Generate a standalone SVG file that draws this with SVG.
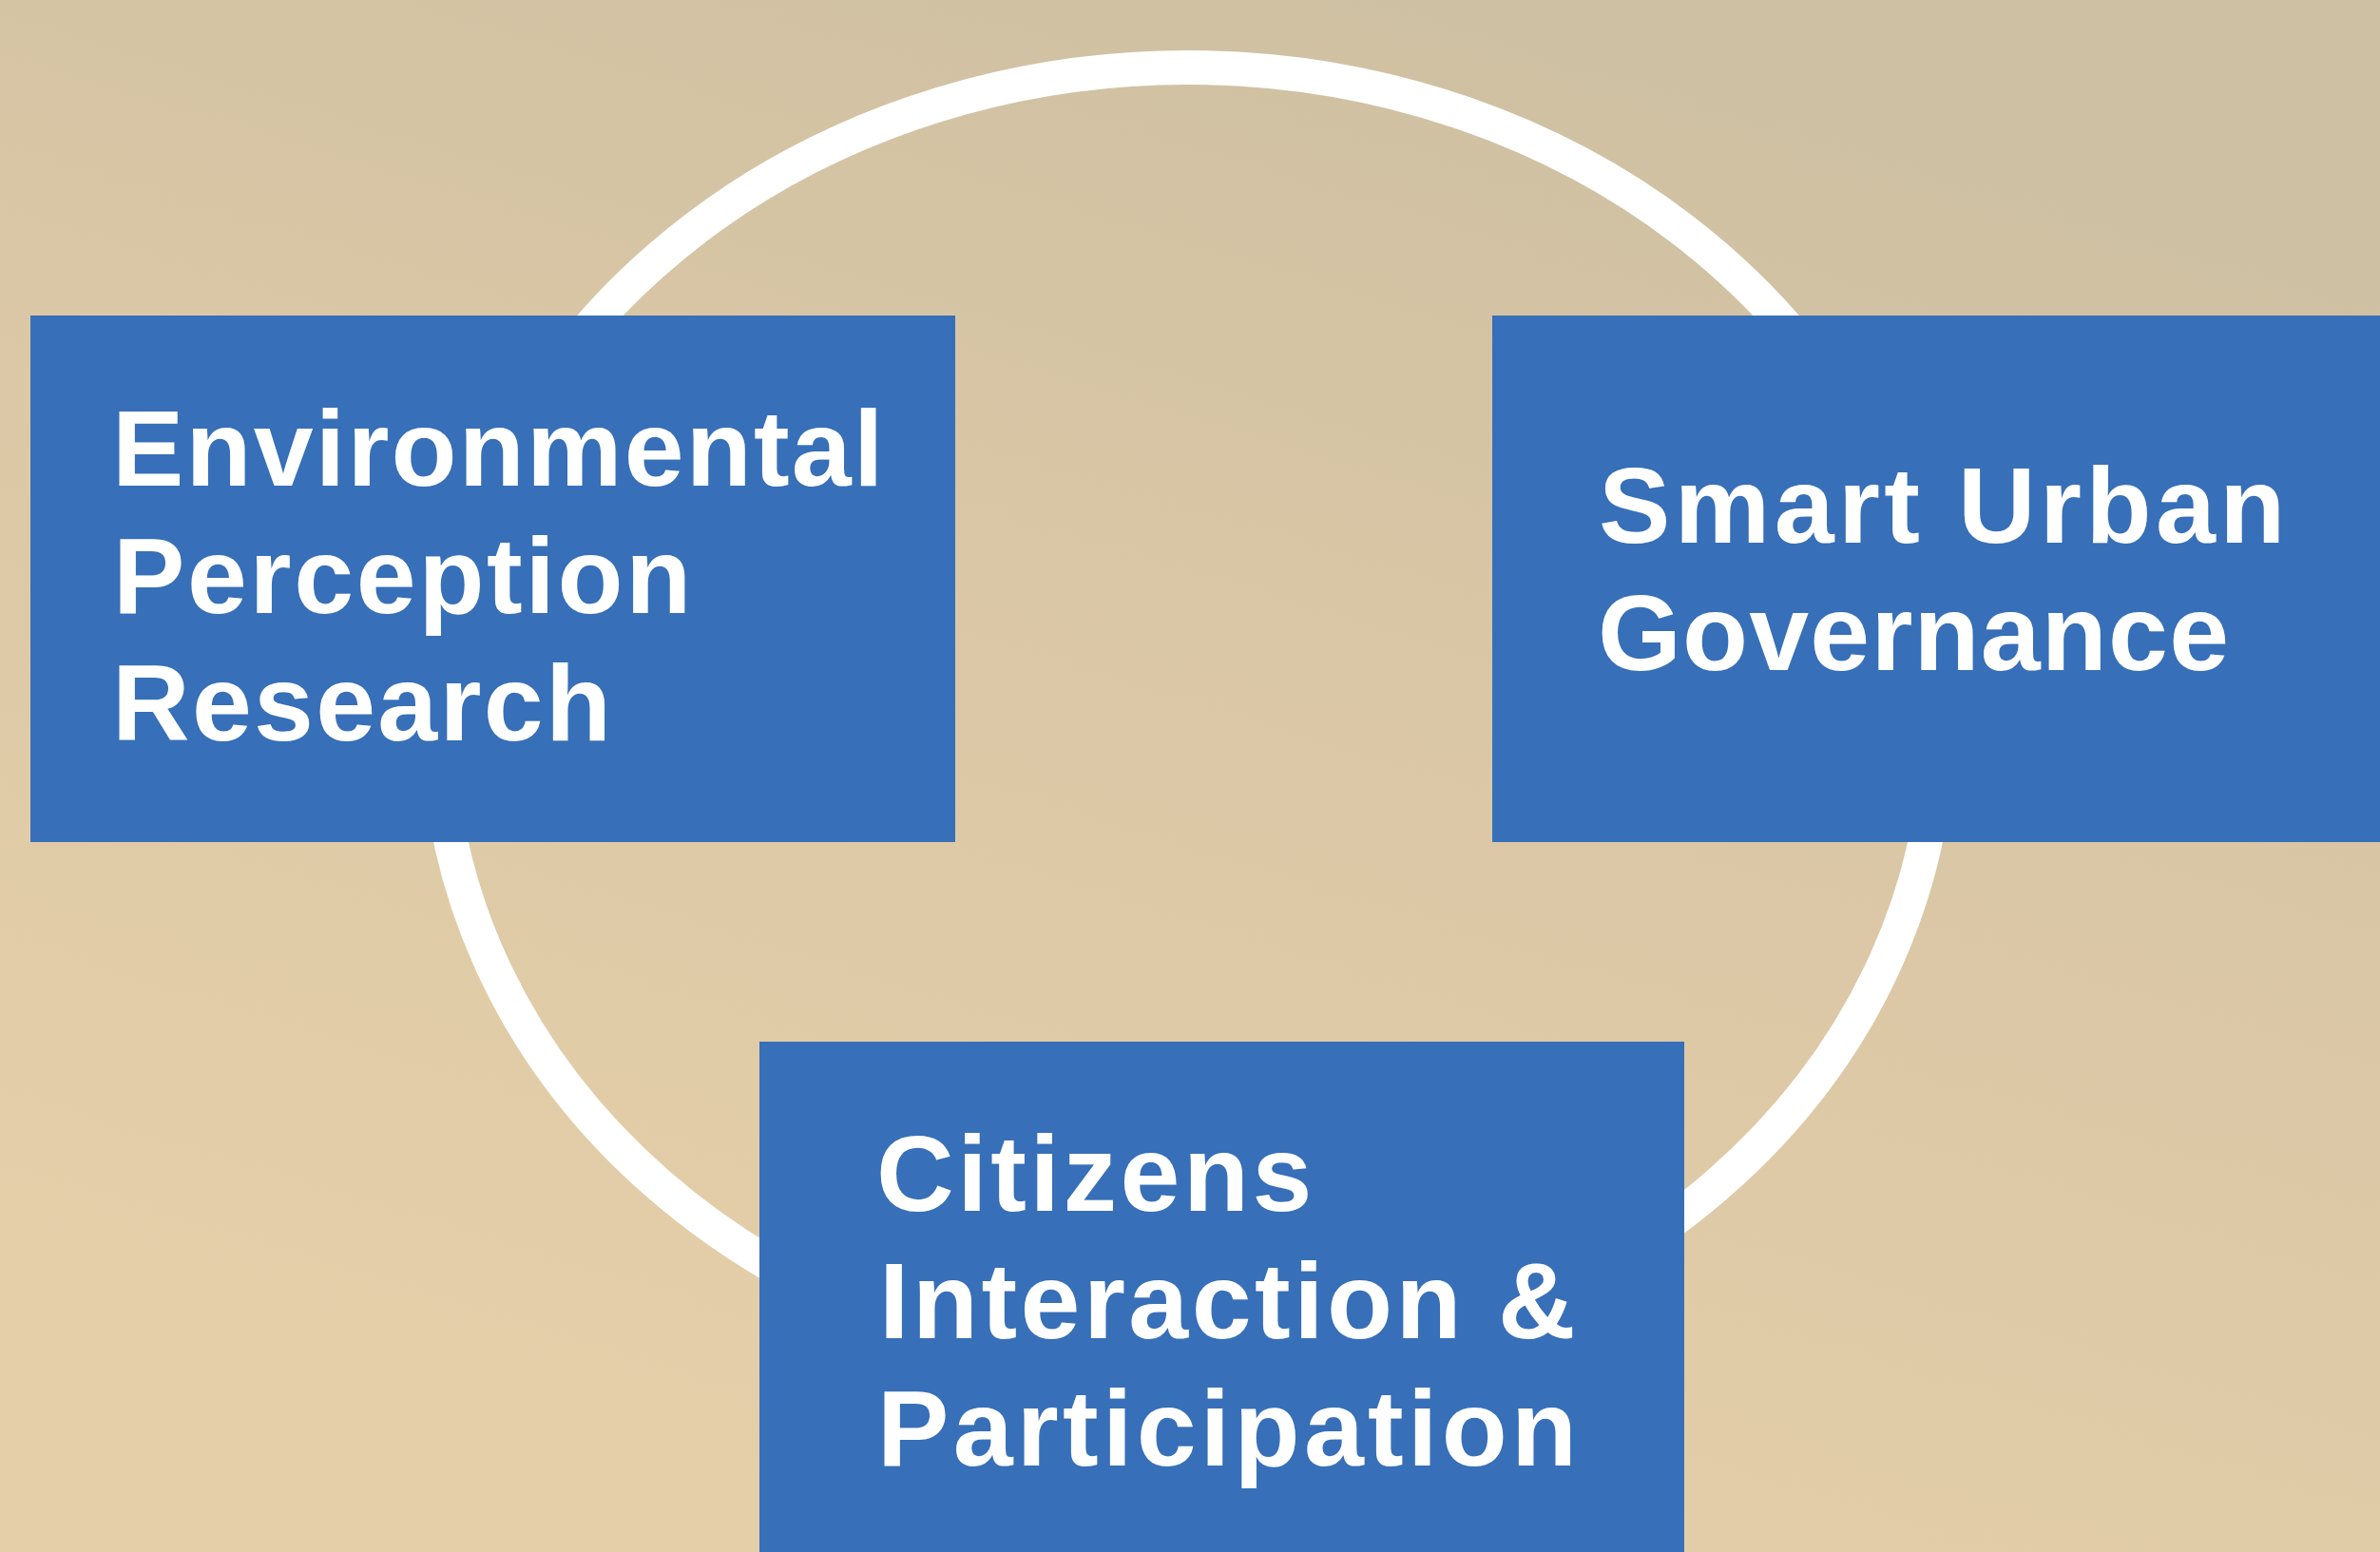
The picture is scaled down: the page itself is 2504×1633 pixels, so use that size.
<svg xmlns="http://www.w3.org/2000/svg" width="2504" height="1633" viewBox="0 0 2504 1633">
  <defs>
    <linearGradient id="bg" gradientUnits="userSpaceOnUse" x1="1550" y1="0" x2="1050" y2="1633">
      <stop offset="0" stop-color="#cec0a2"/>
      <stop offset="0.5" stop-color="#dcc8a6"/>
      <stop offset="1" stop-color="#e5cfa9"/>
    </linearGradient>
    <style>
      .box { fill: #376fb8; }
      .label { font-family: "Liberation Sans", Arial, sans-serif; font-weight: bold; font-size: 113px; fill: #ffffff; }
      .ring { fill: none; stroke: #ffffff; stroke-width: 36; }
    </style>
  </defs>

  <!-- background -->
  <rect x="0" y="0" width="2504" height="1633" fill="url(#bg)"/>

  <!-- connecting ring behind the three topics -->
  <g id="connectors">
    <ellipse class="ring" cx="1250" cy="759" rx="789" ry="688"/>
  </g>

  <g id="node-environmental">
    <rect class="box" x="32" y="332" width="973" height="554"/>
    <text class="label" x="118" y="511" letter-spacing="2.2">Environmental</text>
    <text class="label" x="119" y="645" letter-spacing="2.7">Perception</text>
    <text class="label" x="118" y="779" letter-spacing="2.3">Research</text>
  </g>

  <g id="node-governance">
    <rect class="box" x="1570" y="332" width="934" height="554"/>
    <text class="label" x="1682" y="571" letter-spacing="4.4">Smart Urban</text>
    <text class="label" x="1681" y="705" letter-spacing="1.2">Governance</text>
  </g>

  <g id="node-citizens">
    <rect class="box" x="799" y="1096" width="973" height="537"/>
    <text class="label" x="922" y="1274" letter-spacing="3.6">Citizens</text>
    <text class="label" x="925" y="1408" letter-spacing="3.5">Interaction &amp;</text>
    <text class="label" x="923" y="1542" letter-spacing="4.3">Participation</text>
  </g>
</svg>
